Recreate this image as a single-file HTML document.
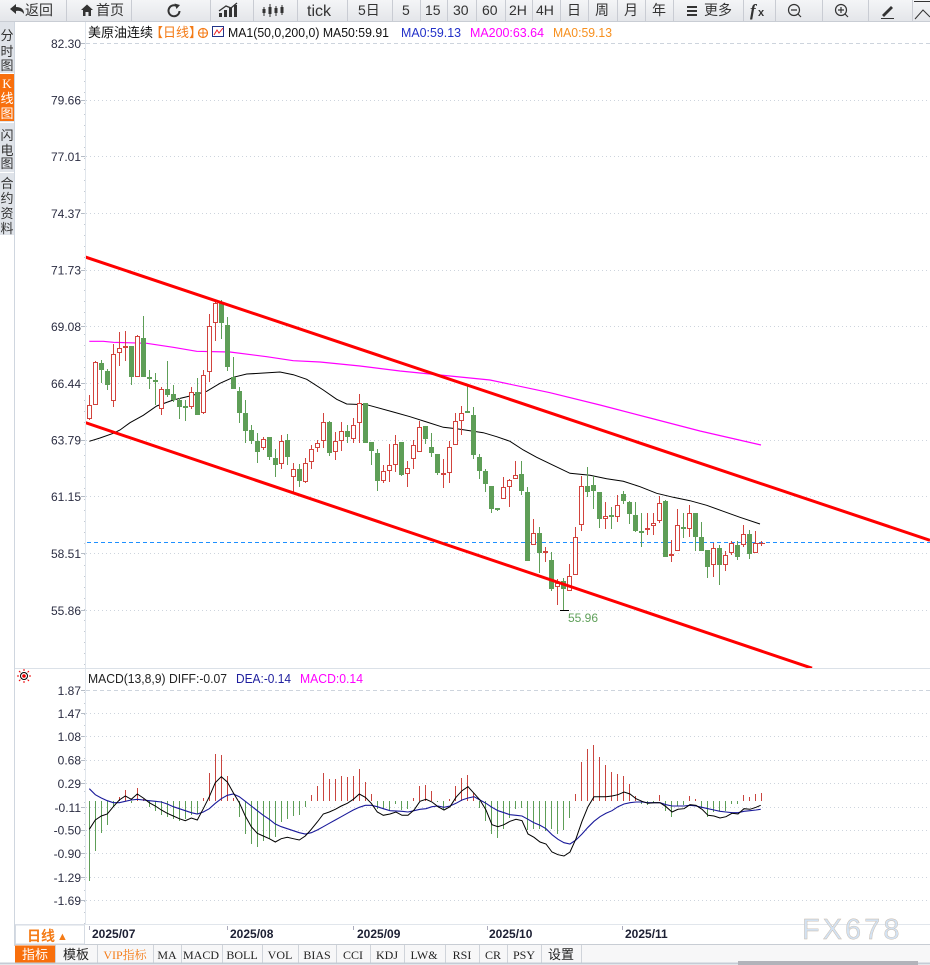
<!DOCTYPE html>
<html><head><meta charset="utf-8"><style>
html,body{margin:0;padding:0;background:#fff;overflow:hidden;width:930px;height:965px}
svg{display:block;font-family:"Liberation Sans","Noto Sans CJK SC",sans-serif}
</style></head><body>
<svg width="930" height="965" viewBox="0 0 930 965" xmlns="http://www.w3.org/2000/svg">
<defs>
<linearGradient id="tb" x1="0" y1="0" x2="0" y2="1"><stop offset="0" stop-color="#f4f5f7"/><stop offset="1" stop-color="#e4e6ea"/></linearGradient>
<clipPath id="mainclip"><rect x="86" y="22" width="844" height="646"/></clipPath>
</defs>
<rect x="0" y="0" width="930" height="965" fill="#fff"/>
<!-- toolbar -->
<rect x="0" y="0" width="930" height="21" fill="url(#tb)"/>
<line x1="0" y1="21.5" x2="930" y2="21.5" stroke="#c9cdd4"/>
<g stroke="#c9ccd3" stroke-width="1">
<path d="M66.5 0V21M131.5 0V21M210.5 0V21M253.5 0V21M297.5 0V21M347.5 0V21M392.5 0V21M420.5 0V21M447.5 0V21M476.5 0V21M505.5 0V21M532.5 0V21M560.5 0V21M588.5 0V21M617.5 0V21M645.5 0V21M673.5 0V21M743.5 0V21M775.5 0V21M822.5 0V21M868.5 0V21M912.5 0V21"/>
</g>
<g fill="#333" font-size="14">
<path d="M10 9 L16 4 L16 7 Q24 7 24 14 Q21 10 16 11 L16 14 Z" fill="#333"/>
<text x="25" y="15">返回</text>
<path d="M81 10 L87 4.5 L93 10 L91 10 L91 16 L88.5 16 L88.5 12 L85.5 12 L85.5 16 L83 16 L83 10 Z" fill="#333"/>
<text x="96" y="15">首页</text>
<path d="M177.5 6.5 A5.5 5.5 0 1 0 179.5 11" fill="none" stroke="#333" stroke-width="2"/>
<path d="M174.5 3.5 L180 5 L176.5 9 Z" fill="#333"/>
<path d="M219 17h3v-4h-3zM224 17h3v-7h-3zM229 17h3v-9h-3zM234 17h3v-12h-3z" fill="#333"/>
<path d="M219 11 L226 6 L231 8 L237 3" fill="none" stroke="#333" stroke-width="1.3"/>
<path d="M264 7v9M270 4v13M276 6v10M282 5v10" stroke="#333" stroke-width="1"/>
<path d="M262.5 9h3v4h-3zM268.5 7h3v7h-3zM274.5 8h3v5h-3zM280.5 7h3v6h-3z" fill="#333"/>
<text x="307" y="16" font-size="16">tick</text>
<text x="358" y="15">5日</text>
<text x="402" y="15">5</text>
<text x="425" y="15">15</text>
<text x="453" y="15">30</text>
<text x="482" y="15">60</text>
<text x="509" y="15">2H</text>
<text x="536" y="15">4H</text>
<text x="567" y="15">日</text>
<text x="595" y="15">周</text>
<text x="624" y="15">月</text>
<text x="652" y="15">年</text>
<path d="M687 6h10v2h-10zM687 10h10v2h-10zM687 14h10v2h-10z" fill="#333"/>
<text x="704" y="15">更多</text>
<text x="750" y="16" font-size="17" font-weight="bold" font-style="italic" font-family="Liberation Serif,serif">f</text>
<text x="758" y="16" font-size="11" font-weight="bold">x</text>
<circle cx="794" cy="10" r="5.5" fill="none" stroke="#333" stroke-width="1.2"/><path d="M791 10h6M798 14l3 3" stroke="#333" stroke-width="1.2"/>
<circle cx="841" cy="10" r="5.5" fill="none" stroke="#333" stroke-width="1.2"/><path d="M838 10h6M841 7v6M845 14l3 3" stroke="#333" stroke-width="1.2"/>
<path d="M882 15 L891 6 L893 8 L884 17 Z" fill="#333"/><path d="M881 18.5h13" stroke="#333"/>
<path d="M914 1.5h16M915 19 L923 10 L930 17" fill="none" stroke="#333"/>
</g>
<!-- left sidebar -->
<rect x="0" y="22" width="14" height="213" fill="#dfe3e9"/>
<rect x="0" y="74" width="14" height="47" fill="#f86f0c"/>
<path d="M0 73.5h14M0 122.5h14M0 172.5h14" stroke="#fff"/>
<g font-size="13" text-anchor="middle" fill="#333">
<text x="7" y="40">分</text><text x="7" y="56">时</text><text x="7" y="70">图</text>
<text x="7" y="88" fill="#fff" font-family="Liberation Serif,serif">K</text><text x="7" y="103" fill="#fff">线</text><text x="7" y="118" fill="#fff">图</text>
<text x="7" y="140">闪</text><text x="7" y="155">电</text><text x="7" y="168">图</text>
<text x="7" y="188">合</text><text x="7" y="203">约</text><text x="7" y="218">资</text><text x="7" y="233">料</text>
</g>
<line x1="14.5" y1="22" x2="14.5" y2="946" stroke="#cfd6df"/>
<line x1="85.5" y1="22" x2="85.5" y2="924" stroke="#e1e6ec"/>
<line x1="15" y1="668.5" x2="930" y2="668.5" stroke="#dbe1e8"/>
<!-- gridlines main -->
<g stroke="#cdd4dd" stroke-width="1" stroke-dasharray="1 3">
<path d="M86 100.5H930M86 156.5H930M86 213.5H930M86 270.5H930M86 326.5H930M86 383.5H930M86 440.5H930M86 496.5H930M86 553.5H930M86 610.5H930"/>
<path d="M86 713.5H930M86 736.5H930M86 760.5H930M86 783.5H930M86 807.5H930M86 830.5H930M86 853.5H930M86 877.5H930M86 900.5H930"/>
</g>
<g stroke="#cdd4dd" stroke-dasharray="4 3"><path d="M86 43.5H930M86 690.5H930"/></g>
<g stroke="#b5bcc6"><path d="M81 43.5h4M81 100.5h4M81 156.5h4M81 213.5h4M81 270.5h4M81 326.5h4M81 383.5h4M81 440.5h4M81 496.5h4M81 553.5h4M81 610.5h4M81 690.5h4M81 713.5h4M81 736.5h4M81 760.5h4M81 783.5h4M81 807.5h4M81 830.5h4M81 853.5h4M81 877.5h4M81 900.5h4"/></g>
<g stroke="#c2c9d2" stroke-dasharray="1 10"><path d="M84.5 48V668M84.5 692V924"/></g>
<!-- price labels -->
<g font-size="12" fill="#2b2d42" text-anchor="end">
<text x="81" y="48">82.30</text><text x="81" y="104.5">79.66</text><text x="81" y="161">77.01</text><text x="81" y="218">74.37</text><text x="81" y="274.5">71.73</text><text x="81" y="331">69.08</text><text x="81" y="388">66.44</text><text x="81" y="444.5">63.79</text><text x="81" y="501">61.15</text><text x="81" y="558">58.51</text><text x="81" y="615">55.86</text>
<text x="81" y="695">1.87</text><text x="81" y="718">1.47</text><text x="81" y="741">1.08</text><text x="81" y="764.5">0.68</text><text x="81" y="788">0.29</text><text x="81" y="812">-0.11</text><text x="81" y="834.5">-0.50</text><text x="81" y="858">-0.90</text><text x="81" y="882">-1.29</text><text x="81" y="905">-1.69</text>
</g>
<!-- header -->
<g font-size="13">
<text x="88" y="37" fill="#111">美原油连续</text>
<text x="150" y="37" fill="#f47b16">【日线】</text>
<circle cx="203" cy="33" r="4.5" fill="none" stroke="#f47b16" stroke-width="1.2"/><path d="M198 33h10M203 28v10" stroke="#f47b16" stroke-width="1"/>
<rect x="212.5" y="26.5" width="11" height="10" fill="#fff" stroke="#223388"/><path d="M214 35 L217 30 L219 33 L223 28" stroke="#e22" fill="none"/>
<text x="228" y="37" fill="#111" textLength="161" lengthAdjust="spacingAndGlyphs">MA1(50,0,200,0) MA50:59.91</text>
<text x="401" y="37" fill="#2230c8" textLength="60" lengthAdjust="spacingAndGlyphs">MA0:59.13</text>
<text x="470" y="37" fill="#f0f" textLength="74" lengthAdjust="spacingAndGlyphs">MA200:63.64</text>
<text x="553" y="37" fill="#f7901e" textLength="59" lengthAdjust="spacingAndGlyphs">MA0:59.13</text>
</g>
<g clip-path="url(#mainclip)">
<!-- MA200 -->
<polyline fill="none" stroke="#f0f" stroke-width="1.2" points="89.3,341.3 103.3,341.3 113.3,342.3 146.7,343.3 173.3,347.3 196.7,351.3 230,352 266.7,356.7 293.3,360.7 320,362 360,366 400,371 440,375 490,380 550,392.7 600,405 650,418 700,431 761,445"/>
<!-- MA50 -->
<polyline fill="none" stroke="#000" stroke-width="1" points="89.3,441.3 100,438 113.3,433.3 120,430 130,422.7 143.3,415.3 156.7,406 173.3,400 190,396 206.7,391.3 220,383.3 233.3,377.3 246.7,374 260,373.3 280,372 293.3,374.7 306.7,379.3 323.3,390 336.7,399.3 346.7,404 366.7,404.7 393.3,412 410,416.7 426.7,422 443.3,427.3 456.7,428.7 470,430.7 483.3,432.7 496.7,436.7 510,441.3 523.3,450 536.7,457.3 553.3,465.3 570,473.3 590,475.3 606.7,478.7 623.3,481.3 640,486.7 656.7,493.3 673.3,497.3 690,500.7 706.7,505.3 723.3,511.3 740,517.3 760,524"/>
<!-- dashed blue -->
<line x1="87" y1="542.5" x2="930" y2="542.5" stroke="#1e90ff" stroke-width="1" stroke-dasharray="4 3"/>
<!-- green wicks -->
<path fill="none" stroke="#5e9e57" stroke-width="1" d="M101.5 360V383M107.5 369V390M131.5 346V385M143.5 316V377M149.5 370V389M155.5 373V405M167.5 361V397M173.5 385V402M179.5 398V419M185.5 400V421M197.5 378V415M221.5 300V339M227.5 317V371M233.5 357V389M239.5 387V423M245.5 400V443M251.5 425V444M257.5 433V463M269.5 437V460M275.5 449V477M287.5 434V465M299.5 464V487M329.5 421V456M347.5 425V443M365.5 403V443M371.5 442V465M377.5 449V491M401.5 442V476M425.5 426V444M431.5 433V457M437.5 454V475M467.5 386V413M473.5 407V459M479.5 454V479M485.5 469V492M491.5 486V513M497.5 508V511M521.5 461V495M527.5 487V561M539.5 527V573M551.5 552V591M563.5 578V610M587.5 467V497M593.5 476V509M599.5 492V528M611.5 507V529M623.5 491V504M629.5 501V524M635.5 502V532M641.5 513V547M665.5 500V557M683.5 513V538M695.5 513V551M701.5 522V551M707.5 550V578M719.5 545V585M737.5 541V560M749.5 530V559"/>
<!-- green bodies -->
<path fill="none" stroke="#5e9e57" stroke-width="5" d="M101.5 363V370M107.5 371V385M131.5 346V377M143.5 338V377M149.5 377V379M155.5 380V382M167.5 389V395M173.5 394V400M179.5 400V407M185.5 406V408M197.5 392V415M221.5 303V323M227.5 325V367M233.5 377V389M239.5 391V413M245.5 413V431M251.5 430V441M257.5 441V452M269.5 437V457M275.5 458V465M287.5 440V457M299.5 469V481M329.5 422V453M347.5 431V437M365.5 403V443M371.5 442V451M377.5 453V481M401.5 442V475M425.5 426V439M431.5 447V453M437.5 454V473M467.5 411V413M473.5 415V455M479.5 457V471M485.5 471V484M491.5 486V509M497.5 508V510M521.5 474V491M527.5 492V561M539.5 533V553M551.5 560V589M563.5 581V589M587.5 486V492M593.5 485V491M599.5 492V519M611.5 515V517M623.5 494V501M629.5 502V514M635.5 515V531M641.5 531V533M665.5 501V557M683.5 527V529M695.5 513V537M701.5 537V551M707.5 550V567M719.5 548V565M737.5 545V557M749.5 534V554"/>
<!-- red wicks -->
<path fill="none" stroke="#d2433d" stroke-width="1" d="M89.5 395V420M95.5 361V405M113.5 344V407M119.5 332V366M125.5 331V361M137.5 335V377M161.5 387V415M191.5 387V409M203.5 370V414M209.5 314V382M215.5 300V341M263.5 437V450M281.5 435V469M293.5 463V492M305.5 458V483M311.5 445V469M317.5 440V452M323.5 413V448M335.5 432V460M341.5 422V451M353.5 418V443M359.5 394V443M383.5 465V483M389.5 444V482M395.5 435V472M407.5 461V487M413.5 440V469M419.5 421V452M443.5 459V488M449.5 441V483M455.5 413V445M461.5 406V435M503.5 477V499M509.5 479V507M515.5 461V479M533.5 519V545M545.5 547V562M557.5 579V605M569.5 564V591M575.5 527V575M581.5 476V531M605.5 502V529M617.5 495V522M647.5 513V535M653.5 513V535M659.5 496V523M671.5 540V562M677.5 509V551M689.5 505V537M713.5 543V577M725.5 551V571M731.5 541V555M743.5 525V547M755.5 531V553M761.5 541V546M758 543.5H765"/>
<!-- red bodies -->
<g fill="#fff" stroke="#d2433d" stroke-width="1">
<rect x="87.5" y="405.5" width="4" height="13"/><rect x="93.5" y="362.5" width="4" height="42"/><rect x="111.5" y="354.5" width="4" height="46"/><rect x="117.5" y="348.5" width="4" height="4"/><rect x="123.5" y="346.5" width="4" height="1"/><rect x="135.5" y="336.5" width="4" height="40"/><rect x="159.5" y="389.5" width="4" height="19"/><rect x="189.5" y="392.5" width="4" height="14"/><rect x="201.5" y="375.5" width="4" height="37"/><rect x="207.5" y="326.5" width="4" height="45"/><rect x="213.5" y="303.5" width="4" height="19"/><rect x="261.5" y="439.5" width="4" height="8"/><rect x="279.5" y="441.5" width="4" height="22"/><rect x="291.5" y="469.5" width="4" height="7"/><rect x="303.5" y="463.5" width="4" height="18"/><rect x="309.5" y="449.5" width="4" height="12"/><rect x="315.5" y="443.5" width="4" height="4"/><rect x="321.5" y="422.5" width="4" height="18"/><rect x="333.5" y="441.5" width="4" height="10"/><rect x="339.5" y="431.5" width="4" height="9"/><rect x="351.5" y="425.5" width="4" height="13"/><rect x="357.5" y="403.5" width="4" height="19"/><rect x="381.5" y="471.5" width="4" height="9"/><rect x="387.5" y="465.5" width="4" height="5"/><rect x="393.5" y="444.5" width="4" height="20"/><rect x="405.5" y="468.5" width="4" height="5"/><rect x="411.5" y="445.5" width="4" height="13"/><rect x="417.5" y="427.5" width="4" height="24"/><rect x="441.5" y="473.5" width="4" height="1"/><rect x="447.5" y="447.5" width="4" height="25"/><rect x="453.5" y="421.5" width="4" height="23"/><rect x="459.5" y="413.5" width="4" height="7"/><rect x="501.5" y="487.5" width="4" height="11"/><rect x="507.5" y="480.5" width="4" height="6"/><rect x="513.5" y="475.5" width="4" height="3"/><rect x="531.5" y="533.5" width="4" height="11"/><rect x="543.5" y="551.5" width="4" height="1"/><rect x="555.5" y="583.5" width="4" height="3"/><rect x="567.5" y="576.5" width="4" height="14"/><rect x="573.5" y="537.5" width="4" height="37"/><rect x="579.5" y="486.5" width="4" height="38"/><rect x="603.5" y="516.5" width="4" height="2"/><rect x="615.5" y="505.5" width="4" height="11"/><rect x="645.5" y="528.5" width="4" height="1"/><rect x="651.5" y="523.5" width="4" height="2"/><rect x="657.5" y="503.5" width="4" height="17"/><rect x="669.5" y="554.5" width="4" height="1"/><rect x="675.5" y="525.5" width="4" height="25"/><rect x="687.5" y="513.5" width="4" height="15"/><rect x="711.5" y="548.5" width="4" height="16"/><rect x="723.5" y="555.5" width="4" height="9"/><rect x="729.5" y="543.5" width="4" height="9"/><rect x="741.5" y="534.5" width="4" height="10"/><rect x="753.5" y="543.5" width="4" height="9"/>
</g>
<!-- trend lines -->
<line x1="85" y1="256.9" x2="930" y2="540.3" stroke="#ff0000" stroke-width="3"/>
<line x1="85" y1="422.5" x2="812" y2="668.2" stroke="#ff0000" stroke-width="3"/>
<!-- low marker -->
<path d="M560 610.5h9" stroke="#000" stroke-width="1"/>
<text x="568" y="622" font-size="12" fill="#5fa05a">55.96</text>
</g>
<!-- MACD header -->
<g transform="translate(24,676)">
<circle r="3.5" fill="none" stroke="#000" stroke-width="1"/><circle r="1.8" fill="#e00"/>
<path d="M0 -7v2M0 5v2M-7 0h2M5 0h2M-5 -5l1.4 1.4M3.6 3.6l1.4 1.4M5 -5l-1.4 1.4M-3.6 3.6l-1.4 1.4" stroke="#e00" stroke-width="1"/>
</g>
<g font-size="13">
<text x="88" y="683" fill="#222" textLength="139" lengthAdjust="spacingAndGlyphs">MACD(13,8,9) DIFF:-0.07</text>
<text x="236" y="683" fill="#1e1e9e" textLength="55" lengthAdjust="spacingAndGlyphs">DEA:-0.14</text>
<text x="300" y="683" fill="#f0f" textLength="63" lengthAdjust="spacingAndGlyphs">MACD:0.14</text>
</g>
<!-- MACD histogram -->
<path fill="none" stroke="#5e9e57" stroke-width="1" d="M89.5 801V881M95.5 801V851M101.5 801V833M107.5 801V825M113.5 801V807M131.5 801V803M149.5 801V807M155.5 801V811M161.5 801V815M167.5 801V817M173.5 801V819M179.5 801V821M185.5 801V819M191.5 801V815M197.5 801V814M239.5 801V817M245.5 801V834M251.5 801V844M257.5 801V847M263.5 801V841M269.5 801V839M275.5 801V837M281.5 801V822M287.5 801V819M293.5 801V816M299.5 801V815M305.5 801V807M377.5 801V809M383.5 801V809M389.5 801V810M395.5 801V804M401.5 801V810M407.5 801V809M437.5 801V802M443.5 801V809M479.5 801V808M485.5 801V821M491.5 801V834M497.5 801V838M503.5 801V829M509.5 801V818M515.5 801V809M521.5 801V808M527.5 801V830M533.5 801V829M539.5 801V829M545.5 801V831M551.5 801V829M557.5 801V834M563.5 801V830M569.5 801V818M641.5 801V804M647.5 801V805M653.5 801V803M665.5 801V811M671.5 801V817M677.5 801V806M683.5 801V805M701.5 801V808M707.5 801V817M713.5 801V812M719.5 801V811M725.5 801V811M731.5 801V804M737.5 801V804"/>
<path fill="none" stroke="#c9453f" stroke-width="1" d="M119.5 801V797M125.5 801V790M137.5 801V788M143.5 801V799M203.5 801V798M209.5 801V773M215.5 801V754M221.5 801V755M227.5 801V776M233.5 801V798M311.5 801V795M317.5 801V786M323.5 801V773M329.5 801V779M335.5 801V779M341.5 801V776M347.5 801V777M353.5 801V776M359.5 801V769M365.5 801V782M371.5 801V794M413.5 801V798M419.5 801V786M425.5 801V785M431.5 801V791M449.5 801V799M455.5 801V786M461.5 801V778M467.5 801V775M473.5 801V793M575.5 801V794M581.5 801V762M587.5 801V749M593.5 801V745M599.5 801V757M605.5 801V765M611.5 801V772M617.5 801V774M623.5 801V776M629.5 801V784M635.5 801V796M659.5 801V795M689.5 801V796M695.5 801V799M743.5 801V795M749.5 801V797M755.5 801V794M761.5 801V793"/>
<!-- DEA -->
<polyline fill="none" stroke="#1a1a9a" stroke-width="1.1" points="89.3,788.7 95.3,794.7 101.3,798 107.3,800.7 113.3,802.7 119.3,802.7 125.3,801.3 131.3,800 137.3,799.3 143.3,800 149.3,800.7 155.3,801.3 161.3,802 167.3,804 173.3,806.7 179.3,808.7 185.3,810.7 191.3,812.7 197.3,814 203.3,812 209.3,808.7 215.3,803.3 221.3,798.7 227.3,795.3 233.3,794 239.3,796.7 245.3,801.3 251.3,806 257.3,810.7 263.3,815.3 269.3,819.3 275.3,824 281.3,826.7 287.3,828.7 293.3,830.7 299.3,832.7 305.3,834 311.3,832.7 317.3,830 323.3,826.7 329.3,823.3 335.3,820 341.3,816.7 347.3,813.3 353.3,810 359.3,807.3 365.3,805.3 371.3,805.3 377.3,806.7 383.3,808.7 390,810.7 402,811.3 408,812 414,810.7 420,809.3 426,808.7 432,806.7 438,806 444,807.3 450,806 456,803.3 462,800 468,798 474,796.7 480,800 486,803.3 492,807.3 498,810.7 504,812.7 510,814.7 516,815.3 522,816 528,819.3 534,822.7 540,825.3 546,828.7 552,834.7 558,839.3 564,842.7 570,844 576,840 582,834 588,827.3 594,821.3 600,816.7 606,813.3 612,810.7 618,806.7 624,804 630,802.7 636,802 642,802 648,802.7 654,802.7 660,802.7 666,804.7 672,806 678,806 684,806 690,805.3 696,806 702,807.3 708,808.7 714,810 720,811.3 726,812 732,812.7 738,812.7 744,811.3 750,810.7 756,810 760.7,809.3"/>
<!-- DIFF -->
<polyline fill="none" stroke="#000" stroke-width="1" points="89.3,829.3 95.3,820 101.3,816 107.3,814 113.3,806.7 119.3,800 125.3,796 131.3,799.3 137.3,794 143.3,798 149.3,802.7 155.3,806 161.3,810 167.3,813.3 173.3,816 179.3,818.7 185.3,820.7 191.3,818 197.3,820 203.3,808.7 209.3,796.7 215.3,782.7 221.3,776.7 227.3,782 233.3,792.7 239.3,802.7 245.3,816 251.3,826.7 257.3,833.3 263.3,836 269.3,838.7 275.3,842 281.3,838.7 287.3,837.3 293.3,838.7 299.3,840 305.3,836 311.3,829.3 317.3,822 323.3,814 329.3,812 335.3,809.3 341.3,806 347.3,803.3 353.3,799.3 359.3,794 365.3,797.3 371.3,803.3 377.3,812 383.3,815.3 390,814 396,812 402,815.3 408,815.3 414,810 420,801.3 426,799.3 432,802 438,806.7 444,810 450,806.7 456,797.3 462,790.7 468,786.7 474,793.3 480,800 486,810 492,824.7 498,826.7 504,824.7 510,821.3 516,819.3 522,820.7 528,834 534,837.3 540,842 546,844 552,852 558,854.7 564,856 570,852 576,838.7 582,821.3 588,806.7 594,796.7 600,796.7 606,796.7 612,796 618,794.7 624,792 630,794 636,798.7 642,801.3 648,803.3 654,802.7 660,802.7 666,806.7 672,812 678,809.3 684,808.7 690,804.7 696,805.3 702,809.3 708,815.3 714,816 720,818 726,816.7 732,813.3 738,814 744,808.7 750,809.3 756,807.3 760.7,805.3"/>
<!-- date row -->
<line x1="15" y1="924.5" x2="930" y2="924.5" stroke="#e1e6ec"/>
<line x1="15" y1="944.5" x2="930" y2="944.5" stroke="#c8cdd4"/>
<rect x="15.5" y="925" width="69" height="19" fill="#fff" stroke="#d5dbe3"/>
<text x="27" y="941" font-size="14" font-weight="bold" fill="#f47b16">日线</text>
<text x="57" y="940" font-size="11" fill="#f47b16">▲</text>
<path d="M89.5 926v4M227.5 926v4M353.5 926v4M487.5 926v4M622.5 926v4" stroke="#aab"/>
<g font-size="12" font-weight="bold" fill="#1c1f33">
<text x="92" y="938">2025/07</text><text x="230" y="938">2025/08</text><text x="357" y="938">2025/09</text><text x="489" y="938">2025/10</text><text x="625" y="938">2025/11</text>
</g>
<text x="802" y="939" font-size="29" letter-spacing="3" fill="#d3e2f2" stroke="#c9b9a9" stroke-width="0.4">FX678</text>
<!-- bottom tabs -->
<rect x="15" y="945" width="915" height="18" fill="#f7f7f8"/>
<rect x="15" y="945.5" width="40" height="17" fill="#f86f0c"/>
<g stroke="#d0d4da"><path d="M55.5 945V963M97.5 945V963M153.5 945V963M181.5 945V963M222.5 945V963M262.5 945V963M298.5 945V963M336.5 945V963M370.5 945V963M404.5 945V963M445.5 945V963M479.5 945V963M507.5 945V963M541.5 945V963M581.5 945V963"/></g>
<g font-size="12" text-anchor="middle" font-family="Liberation Serif,'Noto Serif CJK SC',serif">
<text x="35" y="959" fill="#fff" font-size="13" font-family="Liberation Sans,'Noto Sans CJK SC',sans-serif">指标</text>
<text x="76" y="959" fill="#222" font-size="13" font-family="Liberation Sans,'Noto Sans CJK SC',sans-serif">模板</text>
<text x="125" y="959" fill="#f47b16">VIP指标</text>
<text x="167" y="959" fill="#222">MA</text>
<text x="201" y="959" fill="#222">MACD</text>
<text x="242" y="959" fill="#222">BOLL</text>
<text x="280" y="959" fill="#222">VOL</text>
<text x="317" y="959" fill="#222">BIAS</text>
<text x="353" y="959" fill="#222">CCI</text>
<text x="387" y="959" fill="#222">KDJ</text>
<text x="424" y="959" fill="#222">LW&amp;</text>
<text x="462" y="959" fill="#222">RSI</text>
<text x="493" y="959" fill="#222">CR</text>
<text x="524" y="959" fill="#222">PSY</text>
<text x="561" y="959" fill="#222" font-size="13" font-family="Liberation Sans,'Noto Sans CJK SC',sans-serif">设置</text>
</g>
<line x1="0" y1="963.5" x2="930" y2="963.5" stroke="#c5ccd6" stroke-width="2"/>
<rect x="738" y="961" width="180" height="4" fill="#b2b3ba"/>
</svg>
</body></html>
